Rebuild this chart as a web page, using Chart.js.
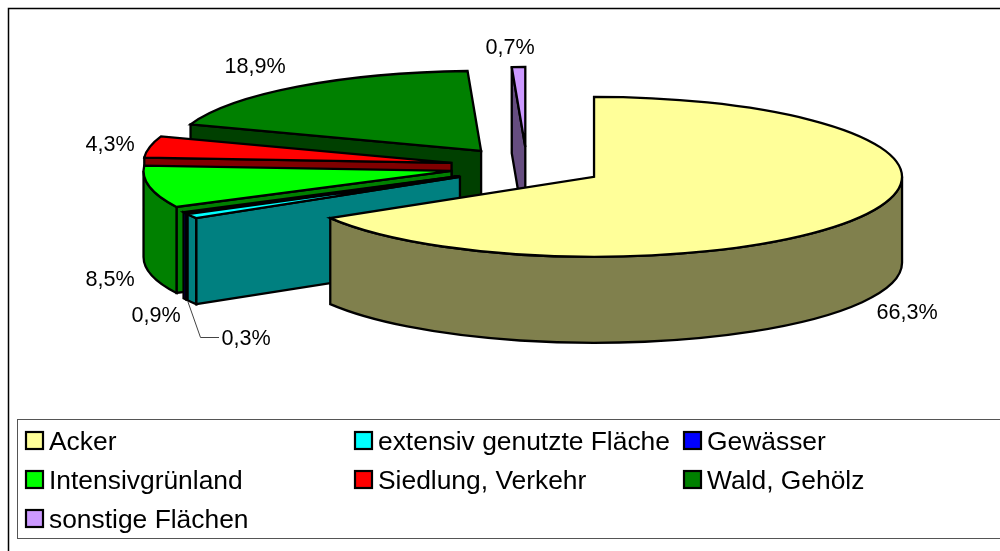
<!DOCTYPE html>
<html>
<head>
<meta charset="utf-8">
<style>html,body{margin:0;padding:0;background:#fff;overflow:hidden}canvas{display:block}</style>
<script src="https://cdn.jsdelivr.net/npm/chart.js@4/dist/chart.umd.min.js"></script>
</head>
<body>
<canvas id="c" width="1000" height="551"></canvas>
<script>
const categories = ['Acker','extensiv genutzte Fläche','Gewässer','Intensivgrünland','Siedlung, Verkehr','Wald, Gehölz','sonstige Flächen'];
const shares = [66.3,0.9,0.3,8.5,4.3,18.9,0.7];
const topColors = ['#FFFF99','#00FFFF','#0000FF','#00FF00','#FF0000','#008000','#CC99FF'];
const wallColors = ['#80804D','#008080','#000080','#008000','#800000','#004000','#664D80'];
const shareLabelPos = [[907,311],[156,314],[246,337],[110,278],[110,143],[255,65],[510,46]];
const legendColumns = [26,355,684];
const legendRows = [440.5,479.5,518.5];

const TILT = 80/308, DEPTH = 86;
const FONT_LABEL = '21.6px "Liberation Sans"', FONT_LEGEND = '26.4px "Liberation Sans"';

function faceWall(ctx, px, py, qx, qy, fill){
  ctx.beginPath();
  ctx.moveTo(px,py); ctx.lineTo(qx,qy); ctx.lineTo(qx,qy+DEPTH); ctx.lineTo(px,py+DEPTH); ctx.closePath();
  ctx.fillStyle = fill; ctx.fill(); ctx.stroke();
}

const pie3d = {
  id:'pie3d',
  beforeDraw(chart){
    const ctx = chart.ctx;
    ctx.save();
    ctx.fillStyle='#fff'; ctx.fillRect(0,0,1000,551);
    ctx.strokeStyle='#000'; ctx.lineWidth=1.5;
    ctx.strokeRect(8.5,8.5,1100,700);
    ctx.strokeStyle='#555'; ctx.lineWidth=1;
    ctx.strokeRect(17.5,419.5,1100,119);
    ctx.restore();
  },
  beforeDatasetsDraw(chart){
    const ctx = chart.ctx;
    const arcs = chart.getDatasetMeta(0).data;
    ctx.save();
    ctx.strokeStyle='#000'; ctx.lineWidth=2.3; ctx.lineJoin='miter';
    for(let i=arcs.length-1;i>=0;i--){
      const el=arcs[i], R=el.outerRadius, a0=el.startAngle, a1=el.endAngle, mid=(a0+a1)/2;
      const d=el.options.offset/4;
      const ax=el.x+Math.cos(mid)*d, ay=el.y+Math.sin(mid)*d*TILT;
      const pt=a=>[ax+R*Math.cos(a), ay+R*TILT*Math.sin(a)];
      const [sx,sy]=pt(a0), [ex,ey]=pt(a1);
      // radial faces turned to the viewer
      if(Math.cos(a0)<-1e-6) faceWall(ctx,ax,ay,sx,sy,wallColors[i]);
      if(Math.cos(a1)>1e-6) faceWall(ctx,ax,ay,ex,ey,wallColors[i]);
      // outer rim, lower half only
      const w0=Math.max(a0,0), w1=Math.min(a1,Math.PI);
      if(w1>w0){
        ctx.beginPath();
        ctx.ellipse(ax,ay,R,R*TILT,0,w0,w1,false);
        ctx.ellipse(ax,ay+DEPTH,R,R*TILT,0,w1,w0,true);
        ctx.closePath();
        ctx.fillStyle=wallColors[i]; ctx.fill(); ctx.stroke();
      }
      // top face
      ctx.beginPath();
      ctx.moveTo(ax,ay);
      ctx.ellipse(ax,ay,R,R*TILT,0,a0,a1,false);
      ctx.closePath();
      ctx.fillStyle=el.options.backgroundColor; ctx.fill(); ctx.stroke();
    }
    ctx.restore();
    return false;
  },
  afterDraw(chart){
    const ctx = chart.ctx;
    ctx.save();
    // leader line of the 0,3% label
    ctx.strokeStyle='#444'; ctx.lineWidth=1;
    ctx.beginPath(); ctx.moveTo(188,302); ctx.lineTo(200.5,337.5); ctx.lineTo(219,337.5); ctx.stroke();
    // share labels
    ctx.fillStyle='#000'; ctx.font=FONT_LABEL; ctx.textAlign='center'; ctx.textBaseline='alphabetic';
    shares.forEach((v,i)=>{
      ctx.fillText(v.toFixed(1).replace('.',',')+'%', shareLabelPos[i][0], shareLabelPos[i][1]+8);
    });
    // legend
    ctx.font=FONT_LEGEND; ctx.textAlign='left';
    categories.forEach((name,i)=>{
      const x=legendColumns[i%3], y=legendRows[Math.floor(i/3)];
      ctx.fillStyle=topColors[i]; ctx.strokeStyle='#000'; ctx.lineWidth=2.2;
      ctx.fillRect(x,y-8.5,17,17); ctx.strokeRect(x,y-8.5,17,17);
      ctx.fillStyle='#000';
      ctx.fillText(name,x+23,y+9.5);
    });
    ctx.restore();
  }
};

new Chart(document.getElementById('c'),{
  type:'pie',
  data:{labels:categories,datasets:[{data:shares,backgroundColor:topColors,borderWidth:0,radius:308,offset:308}]},
  options:{
    responsive:false,animation:false,
    layout:{padding:{left:54,right:0,top:0,bottom:217}},
    plugins:{legend:{display:false},tooltip:{enabled:false}}
  },
  plugins:[pie3d]
});
</script>
</body>
</html>
